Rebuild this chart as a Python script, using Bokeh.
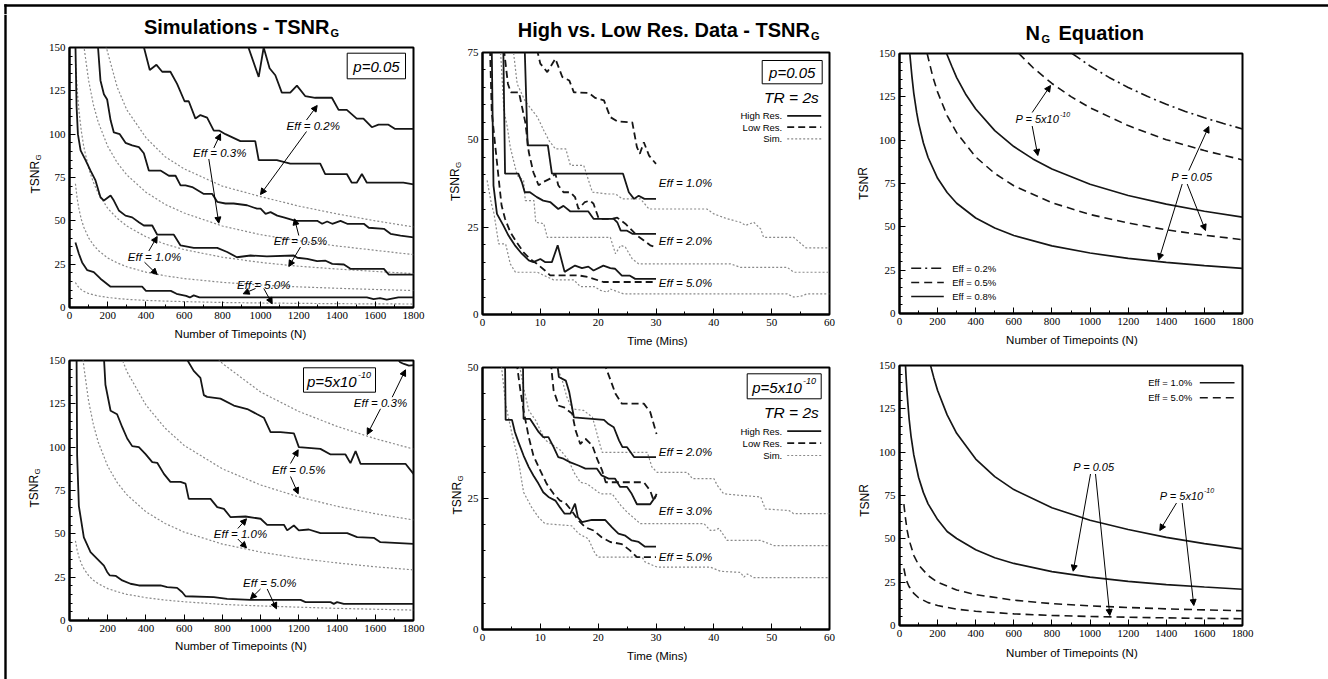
from bokeh.plotting import figure
from bokeh.models import Range1d, FixedTicker, Label, Arrow, NormalHead, BoxAnnotation
from bokeh.layouts import row, column
from bokeh.embed import file_html
from bokeh.resources import INLINE

# ---------------- DATA ----------------
# Panel 1: simulations, p=0.05 (N timepoints vs TSNR_G)
p1_e02_n = [930, 990, 1016, 1047, 1077, 1111, 1155, 1190, 1233, 1286, 1373, 1408, 1451, 1503, 1538, 1582, 1617, 1669, 1704, 1800]
p1_e02_v = [152, 133, 150, 138, 134, 124, 124, 128, 122, 121, 121, 114, 114, 109, 109, 104, 105.5, 105.5, 103, 103]
p1_e03_n = [385, 420, 455, 485, 528, 563, 602, 624, 659, 685, 720, 755, 785, 816, 894, 972, 990, 1085, 1155, 1312, 1338, 1451, 1477, 1503, 1530, 1556, 1678, 1747, 1800]
p1_e03_v = [152, 137, 140, 136, 136, 129, 119, 119, 109, 111, 109.5, 102, 102, 100, 96, 96, 85, 85, 83, 83, 77, 77, 72, 72, 77, 72, 72, 72, 71]
p1_e05_n = [148, 162, 180, 197, 215, 232, 263, 293, 328, 363, 389, 415, 476, 520, 555, 581, 607, 642, 703, 747, 773, 816, 859, 929, 981, 1000, 1026, 1052, 1087, 1121, 1183, 1296, 1322, 1348, 1375, 1418, 1453, 1540, 1566, 1645, 1680, 1732, 1800]
p1_e05_v = [152, 131, 123, 120, 108, 101, 100, 95, 93.5, 92.5, 89, 79, 79, 76, 76, 70.5, 70.5, 69.5, 65.5, 65.5, 61, 60, 60, 59, 57, 57, 54, 55, 53, 52, 50, 50, 48.3, 49.6, 48.3, 50, 48.3, 48.3, 46, 45.4, 42.5, 41.5, 40.5]
p1_e10_n = [31, 37, 44, 58, 84, 110, 136, 162, 180, 215, 232, 258, 293, 328, 363, 389, 433, 459, 546, 581, 650, 773, 825, 876, 947, 1033, 1174, 1192, 1244, 1296, 1340, 1375, 1436, 1470, 1645, 1671, 1800]
p1_e10_v = [152, 116, 100, 90.6, 85, 79, 73.3, 63.6, 61.7, 64.6, 61.7, 56, 53, 52, 49.2, 47.3, 47.3, 42, 42, 35.8, 34.4, 34.4, 32, 29, 30, 29.5, 30, 28.7, 28.1, 26.7, 27, 25.2, 24.8, 22.3, 22.3, 19, 19]
p1_e50_n = [31, 49, 66, 93, 127, 162, 215, 380, 400, 530, 560, 610, 630, 650, 680, 1556, 1591, 1625, 1660, 1721, 1800]
p1_e50_v = [37.5, 31, 26, 21.5, 20.4, 16.6, 12, 12, 9.6, 9.6, 7.9, 6.7, 5.8, 7, 5.8, 5.8, 4.8, 5.4, 4.6, 5.8, 5.8]
sim_n = [31, 40, 50, 62, 75, 100, 125, 150, 200, 250, 300, 400, 500, 600, 800, 1000, 1200, 1400, 1600, 1800]
p1_sim_02 = [346, 306, 274, 246, 225, 205, 185, 168, 147, 127, 114, 98, 87, 80, 70, 64, 58.5, 54, 50, 46.5]
p1_sim_03 = [232, 205, 184, 165, 151, 131, 117, 107, 93, 83.5, 76.5, 66.5, 59.5, 54.5, 47, 42, 38.5, 35.5, 33, 30.5]
p1_sim_05 = [142.8, 126, 113, 101.6, 92.6, 80.4, 72.2, 66, 57.2, 51.4, 47, 40.8, 36.6, 33.4, 29, 26, 23.8, 22.2, 20.8, 19.6]
p1_sim_10 = [71.4, 63.0, 56.5, 50.8, 46.3, 40.2, 36.1, 33.0, 28.6, 25.7, 23.5, 20.4, 18.3, 16.7, 14.5, 13.0, 11.9, 11.1, 10.4, 9.8]
p1_sim_50 = [14.4, 12.7, 11.4, 10.3, 9.3, 8.1, 7.3, 6.7, 5.8, 5.2, 4.7, 4.1, 3.7, 3.4, 2.9, 2.6, 2.4, 2.2, 2.1, 2.0]

# Panel 4: simulations, p=5x10^-10
p4_e03_n = [1710, 1730, 1750, 1776, 1800]
p4_e03_v = [152, 149, 148, 147, 147.3]
p4_e05_n = [607, 650, 685, 703, 720, 790, 860, 930, 982, 1017, 1052, 1104, 1174, 1200, 1313, 1366, 1444, 1470, 1497, 1523, 1758, 1800]
p4_e05_v = [152, 144, 140, 130, 129, 128, 124, 122, 119, 117, 108.7, 108.7, 108, 100, 99, 95.8, 95.8, 90.8, 97.7, 90.4, 90.4, 84.6]
p4_e10_n = [180, 188, 215, 249, 276, 302, 328, 363, 398, 433, 459, 494, 528, 581, 607, 624, 738, 773, 808, 843, 921, 1000, 1034, 1122, 1139, 1174, 1200, 1252, 1313, 1453, 1505, 1592, 1627, 1800]
p4_e10_v = [152, 136, 121, 119, 111.5, 105, 100.6, 100, 96, 91.4, 91, 84.6, 80, 80, 79, 70.2, 70.2, 65.4, 64.4, 59.6, 60, 58.7, 55.2, 55.2, 52, 54.8, 52, 52.5, 50.4, 50.4, 48.1, 47.7, 45.2, 44.2]
p4_e50_n = [37, 40, 49, 75, 110, 145, 180, 197, 211, 241, 276, 319, 363, 476, 511, 563, 590, 607, 755, 825, 947, 1209, 1235, 1366, 1383, 1400, 1435, 1800]
p4_e50_v = [152, 95, 66, 48, 39.4, 35.6, 31.7, 28, 26, 25.8, 23.1, 21.2, 20.2, 20.2, 19.2, 18.8, 16.3, 14, 13.5, 12.5, 11.9, 11.9, 10.6, 10.6, 9.6, 10.6, 9.6, 9.6]
p4_sim_03_n = [500, 600, 800, 1000, 1200, 1400, 1600, 1800]
p4_sim_03 = [188, 171.6, 148.3, 131.8, 120.6, 112, 104.9, 98.9]
p4_sim_05_n = [200, 250, 300, 400, 500, 600, 800, 1000, 1200, 1400, 1600, 1800]
p4_sim_05 = [176, 158, 143.7, 124.3, 111, 101, 87.5, 78.2, 71.3, 65.9, 61.6, 58]
p4_sim_10 = [229, 201, 180, 161, 146.4, 126.6, 113, 103, 89, 79.5, 72.6, 62.7, 56, 51, 44.1, 39.5, 35.9, 33.2, 31, 29.2]
p4_sim_50 = [46, 40.6, 36.4, 32.8, 29.9, 25.9, 23.2, 21.3, 18.4, 16.6, 15.1, 13.2, 11.8, 10.8, 9.3, 8.4, 7.7, 7.0, 6.5, 6.0]

# Panel 2: high vs low res, p=0.05 (minutes)
p2_h10_t = [7.3, 7.8, 11.3, 12.0, 24.3, 25.3, 26.2, 27.0, 28.0, 30.0]
p2_h10_v = [76, 48.4, 48.4, 40.3, 40.3, 35, 33.1, 34, 33.1, 33.1]
p2_h20_t = [3.6, 3.9, 6.2, 6.8, 7.3, 8.2, 9.4, 10.5, 11.7, 13.1, 14.0, 15.2, 18.3, 19.2, 22.7, 23.3, 23.9, 25.0, 25.9, 30.0]
p2_h20_v = [76, 40.3, 40.3, 37.9, 35, 35, 33.6, 32.6, 32.2, 30.2, 31.1, 29.5, 29.5, 27.4, 27.4, 26.4, 24, 24, 23.1, 23.1]
p2_h50_t = [1.6, 1.9, 2.5, 3.6, 4.5, 5.6, 6.8, 8.0, 8.8, 10.0, 10.8, 12.0, 13.0, 14.2, 16.0, 17.2, 18.3, 19.2, 20.9, 22.1, 22.9, 24.1, 25.5, 26.4, 30.0]
p2_h50_v = [76, 36.9, 28.8, 25.5, 22.6, 19.8, 17.4, 15.5, 15, 15.9, 15, 15, 19.8, 12.2, 14, 13.3, 13.7, 12.6, 14, 13.3, 13.1, 11.1, 11.1, 10.2, 10.2]
p2_l10_t = [9.4, 10.0, 11.2, 12.6, 13.8, 15.0, 15.8, 18.4, 19.5, 21.0, 22.1, 23.3, 25.9, 26.7, 27.2, 27.9, 28.8, 30.0]
p2_l10_v = [76, 71.8, 69.4, 73.2, 68, 67, 63.6, 63.4, 62, 61.3, 56.5, 55.3, 55, 47.9, 46, 49.3, 45.5, 43.1]
p2_l20_t = [3.7, 4.4, 4.9, 6.3, 7.4, 8.0, 8.8, 9.7, 10.5, 11.7, 12.6, 13.1, 14.0, 15.2, 16.0, 16.6, 17.7, 18.6, 19.2, 20.1, 22.4, 23.3, 24.7, 25.9, 26.7, 27.9, 29.0, 30.0]
p2_l20_v = [76, 66, 63.6, 63.6, 55, 46.5, 40.7, 37, 37.9, 38.9, 40.3, 37, 35, 35, 33.6, 30.2, 32.2, 32.6, 31.7, 27.4, 27.4, 27.7, 26, 24, 22.6, 21.2, 19.8, 19.3]
p2_l50_t = [1.3, 1.6, 2.2, 2.8, 3.3, 3.9, 4.8, 5.9, 7.1, 8.2, 9.4, 10.8, 11.7, 16.6, 18.3, 20.9, 30.0]
p2_l50_v = [76, 57.9, 48.4, 38.8, 31.2, 27.4, 23.6, 20.7, 17.8, 15.9, 14.5, 12.6, 11.2, 11.2, 10.7, 9.3, 9.3]
p2_s10_t = [5.3, 6.0, 7.4, 8.8, 9.5, 10.6, 11.5, 12.6, 14.4, 15.2, 17.5, 19.0, 21.6, 23.0, 24.2, 27.3, 28.8, 38.8, 40.0, 42.3, 44.6, 45.5, 46.9, 48.1, 48.6, 53.8, 55.9, 60.0]
p2_s10_v = [76, 66, 61, 58, 56.5, 52.7, 49.8, 47.4, 47.4, 42.7, 42.7, 35, 34.5, 34.5, 33.1, 33.1, 30.2, 30.2, 28.8, 27.4, 26.4, 25.5, 26.4, 24.5, 22.1, 22.1, 19.1, 19.1]
p2_s20_t = [3.1, 3.7, 4.3, 4.8, 6.0, 7.1, 7.4, 8.9, 9.2, 10.6, 11.2, 22.1, 23.0, 23.9, 24.7, 25.9, 27.0, 42.9, 44.6, 52.7, 53.8, 60.0]
p2_s20_v = [76, 58.4, 53.6, 47.9, 39.8, 38.4, 32.6, 32.6, 26.4, 26, 22.1, 22.1, 17.4, 19.8, 19.3, 15.9, 14.5, 14.5, 13.5, 13.5, 12.1, 12.1]
p2_s50_t = [0.8, 1.5, 2.0, 2.8, 4.0, 4.8, 5.7, 9.5, 10.6, 12.3, 15.8, 16.9, 19.3, 20.4, 21.6, 22.1, 24.4, 52.7, 53.8, 55.0, 56.1, 60.0]
p2_s50_v = [38.4, 32, 28.8, 20.2, 20.2, 14.5, 12.1, 12.1, 11.2, 9.9, 9.9, 8, 8, 6.9, 6.4, 7.3, 5.9, 5.9, 5, 5.2, 5.9, 5.9]

# Panel 5: high vs low res, p=5x10^-10
p5_h20_t = [12.9, 13.2, 14.4, 15.0, 15.8, 21.0, 21.8, 22.7, 23.6, 24.2, 25.0, 26.2, 30.0]
p5_h20_v = [51, 48.2, 47.5, 45.3, 40.5, 40, 39.2, 38.6, 36.1, 34.8, 34.8, 32.9, 32.9]
p5_h30_t = [7.0, 7.1, 8.2, 8.8, 9.7, 10.5, 11.4, 12.3, 13.1, 14.0, 15.2, 16.6, 17.8, 19.8, 20.6, 21.8, 22.9, 23.8, 25.0, 25.8, 26.7, 29.0, 30.0]
p5_h30_v = [51, 40.2, 40.2, 39.2, 37.7, 36.7, 36.7, 34.8, 32.9, 32.6, 31.9, 31.3, 30.7, 30.7, 29.4, 28.8, 28.8, 27.2, 27.2, 25.9, 23.9, 23.9, 25.5]
p5_h50_t = [3.9, 4.0, 5.1, 5.6, 6.2, 7.1, 8.0, 8.8, 9.7, 10.5, 11.4, 12.6, 13.4, 14.2, 15.2, 16.0, 16.5, 17.2, 18.9, 21.2, 22.4, 23.5, 24.7, 25.8, 27.0, 28.1, 30.0]
p5_h50_v = [51, 40, 40, 37.7, 35.8, 33.2, 31, 29.4, 27.8, 26.2, 25.3, 24.6, 23.3, 22.1, 22.1, 24, 21.4, 20.5, 20.9, 20.9, 19.5, 18.3, 17.9, 17, 16.7, 15.8, 15.8]
p5_l20_t = [21.0, 23.0, 24.1, 27.9, 29.0, 30.1]
p5_l20_v = [51, 45, 43.1, 43.1, 41.5, 37.3]
p5_l30_t = [11.8, 12.3, 13.2, 14.1, 15.5, 16.1, 16.9, 17.8, 19.0, 19.8, 20.7, 21.3, 27.9, 29.0, 29.6, 30.1]
p5_l30_v = [51, 45.6, 42.7, 42.4, 41.2, 38, 35.4, 36.4, 35.1, 32.6, 30.3, 28.1, 28.1, 26.5, 24.6, 25.9]
p5_l50_t = [5.9, 6.5, 7.1, 8.0, 8.8, 10.0, 11.1, 12.3, 13.4, 14.3, 15.4, 16.6, 17.8, 19.2, 20.6, 22.1, 24.1, 25.5, 26.7, 30.0]
p5_l50_v = [51, 46, 41.8, 36.7, 33.2, 30.3, 27.8, 25.9, 24.6, 24.2, 22.7, 20.8, 19.5, 18.9, 17.6, 16.7, 16.3, 15.1, 13.8, 13.8]
p5_s20_t = [12.6, 13.8, 14.6, 15.5, 17.5, 19.0, 19.5, 20.1, 20.7, 28.5, 29.3, 30.2, 35.4, 36.3, 40.0, 40.6, 41.7, 44.6, 48.1, 48.9, 53.0, 53.8, 60.0]
p5_s20_v = [51, 47.5, 44.3, 42.1, 41.8, 40.5, 38.6, 36.1, 33.8, 33.8, 31, 30, 30, 28.8, 28.8, 27.5, 25.9, 25.6, 25.3, 23, 22.7, 22.1, 22.1]
p5_s30_t = [6.3, 7.1, 8.0, 9.2, 10.0, 10.9, 12.3, 13.5, 14.9, 15.8, 16.9, 18.1, 19.3, 20.4, 22.4, 23.9, 25.0, 27.3, 38.3, 39.4, 40.0, 40.9, 42.3, 48.1, 50.4, 60.0]
p5_s30_v = [51, 46.2, 41.8, 39.9, 38, 36.1, 35.1, 34.2, 32.3, 30, 28.1, 27.8, 26.8, 25.9, 25.9, 23.7, 22.4, 20.2, 20.2, 18.9, 18.9, 19.3, 17, 17, 16, 16]
p5_s50_t = [3.2, 4.0, 5.1, 6.2, 7.1, 8.5, 9.7, 10.8, 15.4, 16.6, 18.3, 19.5, 20.1, 27.6, 28.1, 30.2, 39.4, 41.2, 44.6, 45.2, 45.8, 46.9, 60.0]
p5_s50_v = [51, 43, 37.3, 32.3, 26.2, 23.3, 21.4, 20.2, 19.8, 18.3, 17.3, 14.4, 13.8, 13.8, 12.9, 11.9, 11.9, 11.1, 10.9, 10, 10.6, 9.9, 9.9]

# Panel 3: N_G equation
p3_dd02_n = [906, 1000, 1100, 1200, 1300, 1400, 1500, 1600, 1700, 1800]
p3_dd02_v = [150, 142.8, 136.2, 130.4, 125.3, 120.7, 116.6, 112.9, 109.6, 106.5]
p3_da05_hi_n = [626, 700, 800, 900, 1000, 1200, 1400, 1600, 1800]
p3_da05_hi_v = [150, 141.9, 132.7, 125.1, 118.7, 108.4, 100.3, 94, 88.6]
p3_so08_hi_n = [247, 275, 300, 350, 400, 500, 600, 700, 800, 1000, 1200, 1400, 1600, 1800]
p3_so08_hi_v = [150, 142.5, 136.1, 126, 118, 105.5, 96.3, 89.2, 83.4, 74.6, 68.1, 63.1, 59, 55.6]
p3_da05_lo_n = [145, 175, 200, 250, 300, 400, 500, 600, 800, 1000, 1200, 1400, 1600, 1800]
p3_da05_lo_v = [150, 136.5, 127.7, 114.2, 104.3, 90.3, 80.8, 73.7, 63.9, 57.1, 52.2, 48.3, 45.2, 42.6]
p3_so08_lo_n = [54, 65, 75, 90, 100, 125, 150, 200, 250, 300, 400, 500, 600, 800, 1000, 1200, 1400, 1600, 1800]
p3_so08_lo_v = [150, 137, 127, 116, 110, 98.5, 90, 78, 69.8, 63.6, 55.1, 49.3, 45, 39, 34.9, 31.8, 29.5, 27.6, 26]

# Panel 6: N_G equation, Eff 1% and 5%
p6_so10_hi_n = [163, 180, 200, 250, 300, 400, 500, 600, 800, 1000, 1200, 1400, 1600, 1800]
p6_so10_hi_v = [150, 143, 135.6, 121.5, 110.9, 96, 85.9, 78.4, 67.9, 60.7, 55.4, 50.8, 47.2, 44.2]
p6_so10_lo_n = [31.5, 35, 40, 50, 60, 75, 100, 125, 150, 200, 250, 300, 400, 500, 600, 800, 1000, 1200, 1400, 1600, 1800]
p6_so10_lo_v = [150, 142.5, 133.6, 119.7, 109.6, 98.4, 85.5, 76.8, 70.2, 61.1, 54.2, 50.2, 43.7, 39.1, 35.8, 31.1, 27.9, 25.5, 23.6, 22.2, 20.9]
p6_da50_n = [23, 30, 40, 50, 75, 100, 150, 200, 300, 400, 600, 800, 1000, 1200, 1400, 1600, 1800]
p6_da50_hi_v = [70, 63, 55, 49.5, 40.5, 35, 28.8, 25, 20.5, 17.8, 14.6, 12.6, 11.3, 10.4, 9.6, 9, 8.5]
p6_da50_lo_v = [33, 29, 25, 22.5, 18.5, 16, 13.2, 11.5, 9.4, 8.2, 6.7, 5.8, 5.2, 4.8, 4.4, 4.1, 3.9]

# Tick labels
n_ticks = [0, 200, 400, 600, 800, 1000, 1200, 1400, 1600, 1800]
t_ticks = [0, 10, 20, 30, 40, 50, 60]

# ---------------- STYLE / LAYOUT ----------------
SANS = "Liberation Sans"
SERIF = "Liberation Serif"
INK = "#161616"
SIMC = "#8a8a8a"

# panel figures (page coords: figure origin/size and frame edges)
G1 = dict(x0=45, y0=40, w=395, h=285, fl=69, fr=413, ft=47, fb=307)
G4 = dict(x0=45, y0=350, w=395, h=288, fl=69, fr=413, ft=360, fb=620)
G2 = dict(x0=464, y0=43, w=386, h=289, fl=482, fr=829, ft=52, fb=314)
G5 = dict(x0=464, y0=350, w=386, h=297, fl=482, fr=829, ft=367, fb=629)
G3 = dict(x0=873, y0=45, w=455, h=286, fl=899, fr=1242, ft=53, fb=313)
G6 = dict(x0=873, y0=348, w=455, h=295, fl=899, fr=1242, ft=365, fb=625)

TOP_H = 14


def make_fig(g, xr, yr, xt, xm, yt, ym):
    p = figure(width=g["w"], height=g["h"], output_backend="svg", toolbar_location=None,
               title=None, x_range=Range1d(*xr), y_range=Range1d(*yr),
               min_border_left=g["fl"] - g["x0"], min_border_right=g["x0"] + g["w"] - g["fr"],
               min_border_top=g["ft"] - g["y0"], min_border_bottom=g["y0"] + g["h"] - g["fb"])
    p.grid.visible = False
    p.outline_line_color = "black"
    p.outline_line_width = 2
    p.background_fill_color = "white"
    p.border_fill_color = "white"
    p.xaxis.ticker = FixedTicker(ticks=xt, minor_ticks=xm)
    p.yaxis.ticker = FixedTicker(ticks=yt, minor_ticks=ym)
    for ax in list(p.xaxis) + list(p.yaxis):
        ax.axis_line_width = 2
        ax.axis_line_color = "black"
        ax.major_tick_in = 6
        ax.major_tick_out = 0
        ax.minor_tick_in = 3
        ax.minor_tick_out = 0
        ax.major_tick_line_color = "black"
        ax.minor_tick_line_color = "black"
        ax.major_label_text_font = SERIF
        ax.major_label_text_font_size = "11px"
        ax.major_label_text_color = "black"
        ax.major_label_standoff = 4
    return p


def strip(x0, y0, w, h, fb=None):
    """Text-only canvas. fb: page y of its frame bottom (differs when the frame is aligned to a neighbour)."""
    s = figure(width=w, height=h, output_backend="svg", toolbar_location=None, title=None,
               x_axis_type=None, y_axis_type=None, x_range=Range1d(0, w), y_range=Range1d(0, h),
               min_border=0)
    s.outline_line_color = None
    s.background_fill_color = "white"
    s.border_fill_color = "white"
    s.min_border_left = 0
    s.min_border_right = 0
    s.min_border_top = 0
    s.min_border_bottom = 0
    return s, dict(fl=x0, fb=(y0 + h) if fb is None else fb)


def txt(p, g, px, py, text, size, style="normal", align="left", baseline="middle", angle=0.0, font=SANS):
    p.add_layout(Label(x=px - g["fl"], y=g["fb"] - py, x_units="screen", y_units="screen",
                       text=text, text_font=font, text_font_size=f"{size}px",
                       text_font_style=style, text_align=align, text_baseline=baseline,
                       angle=angle, text_color="black"))


def arr(p, g, x1, y1, x2, y2, head=True, dash="solid", width=1.0, color="black"):
    kw = dict(x_start=x1 - g["fl"], y_start=g["fb"] - y1, x_end=x2 - g["fl"], y_end=g["fb"] - y2,
              start_units="screen", end_units="screen", line_width=width, line_color=color,
              line_dash=dash)
    kw["end"] = NormalHead(size=6, fill_color="black", line_color="black", line_width=1) if head else None
    p.add_layout(Arrow(**kw))


def box(p, g, l, r, t, b, fill="white", line="black"):
    p.add_layout(BoxAnnotation(left=l - g["fl"], right=r - g["fl"], top=g["fb"] - t, bottom=g["fb"] - b,
                               left_units="screen", right_units="screen", top_units="screen",
                               bottom_units="screen", fill_color=fill, fill_alpha=1.0,
                               line_color=line, line_width=1, line_alpha=1.0 if line else 0.0))


def rule(s, g, l, r, t, b):
    box(s, g, l, r, t, b, fill="black", line=None)


def ylab(p, g, px, pybot, sub=True):
    if sub:
        txt(p, g, px, pybot, "TSNR", 12, "normal", "left", "middle", angle=1.5708)
        txt(p, g, px + 3, pybot - 33, "G", 8, "normal", "left", "middle", angle=1.5708)
    else:
        txt(p, g, px, pybot, "TSNR", 12, "normal", "center", "middle", angle=1.5708)


def title_sub(s, g, xr, mid, main, gmid):
    txt(s, g, xr, mid, main, 20, "bold", "right", "middle")
    txt(s, g, xr + 1, gmid, "G", 11, "bold", "left", "middle")


def solid(p, x, y, w=1.8):
    p.line(x, y, line_color=INK, line_width=w)


def dashed(p, x, y, d="7 4", w=1.8):
    p.line(x, y, line_color=INK, line_width=w, line_dash=d)


def sim(p, x, y):
    p.line(x, y, line_color=SIMC, line_width=1.2, line_dash="2 2")


n_minor = list(range(100, 1800, 200))
v_minor = list(range(0, 151, 5))
v_major = [0, 25, 50, 75, 100, 125, 150]
t_minor = [5, 15, 25, 35, 45, 55]

# ================= PAGE RULES (top band and left strip) =================
TOP, gTop = strip(0, 0, 1328, TOP_H)
TOP.height = TOP_H
TOP.min_height = TOP_H
rule(TOP, gTop, 3.8, 1328, 3.8, 6.2)
rule(TOP, gTop, 3.8, 6.2, 3.8, TOP_H)

LEFT, gL = strip(0, TOP_H, 10, 679 - TOP_H)
rule(LEFT, gL, 3.8, 6.2, TOP_H, 679)

# ================= COLUMN 1 =================
T1, gT1 = strip(10, TOP_H, 430, 40 - TOP_H)
title_sub(T1, gT1, 329, 26.3, "Simulations - TSNR", 32.5)

Y1, gY1 = strip(10, 40, 35, 285, fb=G1["fb"])
ylab(Y1, gY1, 35, 193)

p1 = make_fig(G1, (0, 1800), (0, 150), n_ticks, n_minor, v_major, v_minor)
for vals in (p1_sim_02, p1_sim_03, p1_sim_05, p1_sim_10, p1_sim_50):
    sim(p1, sim_n, vals)
solid(p1, p1_e02_n, p1_e02_v)
solid(p1, p1_e03_n, p1_e03_v)
solid(p1, p1_e05_n, p1_e05_v)
solid(p1, p1_e10_n, p1_e10_v)
solid(p1, p1_e50_n, p1_e50_v)
box(p1, G1, 346.7, 405, 52.7, 78.3)
txt(p1, G1, 376, 66, "p=0.05", 15, "italic", "center")
txt(p1, G1, 312.7, 125, "Eff = 0.2%", 11.5, "italic", "center")
arr(p1, G1, 306, 119.5, 316.7, 105)
arr(p1, G1, 306, 131, 260, 194)
txt(p1, G1, 219.3, 152.7, "Eff = 0.3%", 11.5, "italic", "center")
arr(p1, G1, 213.3, 147.5, 220, 133.3)
arr(p1, G1, 208.3, 158.5, 218.3, 222.7)
txt(p1, G1, 300, 240.7, "Eff = 0.5%", 11.5, "italic", "center")
arr(p1, G1, 298.3, 235, 294, 218.3)
arr(p1, G1, 300, 246.5, 288.3, 266)
txt(p1, G1, 154, 256, "Eff = 1.0%", 11.5, "italic", "center")
arr(p1, G1, 148.3, 250.5, 156.7, 236)
arr(p1, G1, 144, 261.7, 156.7, 274)
txt(p1, G1, 263.3, 284, "Eff = 5.0%", 11.5, "italic", "center")
arr(p1, G1, 255, 288, 242.7, 293.3)
arr(p1, G1, 263.3, 288, 271.7, 303.3)

X1, gX1 = strip(10, 325, 430, 25)
txt(X1, gX1, 240, 333.5, "Number of Timepoints (N)", 11.5, "normal", "center")

Y4, gY4 = strip(10, 350, 35, 288, fb=G4["fb"])
ylab(Y4, gY4, 34, 507)

p4 = make_fig(G4, (0, 1800), (0, 150), n_ticks, n_minor, v_major, v_minor)
sim(p4, p4_sim_03_n, p4_sim_03)
sim(p4, p4_sim_05_n, p4_sim_05)
sim(p4, sim_n, p4_sim_10)
sim(p4, sim_n, p4_sim_50)
solid(p4, p4_e03_n, p4_e03_v)
solid(p4, p4_e05_n, p4_e05_v)
solid(p4, p4_e10_n, p4_e10_v)
solid(p4, p4_e50_n, p4_e50_v)
box(p4, G4, 303, 375, 367.3, 391.7)
txt(p4, G4, 306.5, 380.7, "p=5x10", 15, "italic", "left")
txt(p4, G4, 357.5, 374, "-10", 9, "italic", "left")
txt(p4, G4, 380, 402.7, "Eff = 0.3%", 11.5, "italic", "center")
arr(p4, G4, 391.7, 396.7, 405, 369.3)
arr(p4, G4, 380, 408.3, 366.7, 434)
txt(p4, G4, 298.3, 469.3, "Eff = 0.5%", 11.5, "italic", "center")
arr(p4, G4, 290, 463, 297.7, 449.3)
arr(p4, G4, 290, 476, 297.7, 493.3)
txt(p4, G4, 240, 533.3, "Eff = 1.0%", 11.5, "italic", "center")
arr(p4, G4, 237.3, 528, 246, 518.3)
arr(p4, G4, 237.3, 538.5, 246, 547.3)
txt(p4, G4, 269.3, 582.7, "Eff = 5.0%", 11.5, "italic", "center")
arr(p4, G4, 260, 588.5, 250, 598.3)
arr(p4, G4, 266.7, 588.5, 276, 608.3)

X4, gX4 = strip(10, 638, 430, 41)
txt(X4, gX4, 240.5, 645, "Number of Timepoints (N)", 11.5, "normal", "center")

col1 = column(T1, row(Y1, p1, spacing=0), X1, row(Y4, p4, spacing=0), X4, spacing=0)

# ================= COLUMN 2 =================
T2, gT2 = strip(440, TOP_H, 410, 43 - TOP_H)
title_sub(T2, gT2, 809.5, 29.5, "High vs. Low Res. Data - TSNR", 35.7)

Y2, gY2 = strip(440, 43, 24, 289, fb=G2["fb"])
ylab(Y2, gY2, 455, 200.5)

p2 = make_fig(G2, (0, 60), (0, 75), t_ticks, t_minor, [0, 25, 50, 75], list(range(0, 76, 5)))
sim(p2, p2_s10_t, p2_s10_v)
sim(p2, p2_s20_t, p2_s20_v)
sim(p2, p2_s50_t, p2_s50_v)
dashed(p2, p2_l10_t, p2_l10_v)
dashed(p2, p2_l20_t, p2_l20_v)
dashed(p2, p2_l50_t, p2_l50_v)
solid(p2, p2_h10_t, p2_h10_v)
solid(p2, p2_h20_t, p2_h20_v)
solid(p2, p2_h50_t, p2_h50_v)
box(p2, G2, 761.7, 821.7, 60, 83.3)
txt(p2, G2, 791.7, 71.7, "p=0.05", 15, "italic", "center")
txt(p2, G2, 818.3, 96.7, "TR = 2s", 15.5, "italic", "right")
for py, name, d in ((115.3, "High Res.", "solid"), (126.7, "Low Res.", "7 4"), (138.3, "Sim.", "2 2")):
    txt(p2, G2, 781.7, py, name, 9.5, "normal", "right")
    arr(p2, G2, 786.7, py, 820.7, py, head=False, dash=d,
        width=(1.2 if d == "2 2" else 1.8), color=(SIMC if d == "2 2" else INK))
txt(p2, G2, 658.3, 182.7, "Eff = 1.0%", 11.5, "italic", "left")
txt(p2, G2, 658.3, 240.7, "Eff = 2.0%", 11.5, "italic", "left")
txt(p2, G2, 658.3, 282.3, "Eff = 5.0%", 11.5, "italic", "left")

X2, gX2 = strip(440, 332, 410, 18)
txt(X2, gX2, 657, 340, "Time (Mins)", 11.5, "normal", "center")

Y5, gY5 = strip(440, 350, 24, 297, fb=G5["fb"])
ylab(Y5, gY5, 457, 514)

p5 = make_fig(G5, (0, 60), (0, 50), t_ticks, t_minor, [0, 25, 50], list(range(0, 51, 5)))
sim(p5, p5_s20_t, p5_s20_v)
sim(p5, p5_s30_t, p5_s30_v)
sim(p5, p5_s50_t, p5_s50_v)
dashed(p5, p5_l20_t, p5_l20_v)
dashed(p5, p5_l30_t, p5_l30_v)
dashed(p5, p5_l50_t, p5_l50_v)
solid(p5, p5_h20_t, p5_h20_v)
solid(p5, p5_h30_t, p5_h30_v)
solid(p5, p5_h50_t, p5_h50_v)
box(p5, G5, 746.7, 820.7, 373.3, 398.3)
txt(p5, G5, 751.7, 387.3, "p=5x10", 15, "italic", "left")
txt(p5, G5, 802.5, 380, "-10", 9, "italic", "left")
txt(p5, G5, 818.3, 411.7, "TR = 2s", 15.5, "italic", "right")
for py, name, d in ((430.7, "High Res.", "solid"), (442.7, "Low Res.", "7 4"), (455, "Sim.", "2 2")):
    txt(p5, G5, 781.7, py, name, 9.5, "normal", "right")
    arr(p5, G5, 786.7, py, 820.7, py, head=False, dash=d,
        width=(1.2 if d == "2 2" else 1.8), color=(SIMC if d == "2 2" else INK))
txt(p5, G5, 658.3, 451.7, "Eff = 2.0%", 11.5, "italic", "left")
txt(p5, G5, 658.3, 510, "Eff = 3.0%", 11.5, "italic", "left")
txt(p5, G5, 658.3, 556.7, "Eff = 5.0%", 11.5, "italic", "left")

X5, gX5 = strip(440, 647, 410, 32)
txt(X5, gX5, 656.7, 655, "Time (Mins)", 11.5, "normal", "center")

col2 = column(T2, row(Y2, p2, spacing=0), X2, row(Y5, p5, spacing=0), X5, spacing=0)

# ================= COLUMN 3 =================
T3, gT3 = strip(850, TOP_H, 478, 45 - TOP_H)
txt(T3, gT3, 1039.5, 32.1, "N", 20, "bold", "right", "middle")
txt(T3, gT3, 1041, 38.2, "G", 11, "bold", "left", "middle")
txt(T3, gT3, 1058, 32.1, "Equation", 20, "bold", "left", "middle")

Y3, gY3 = strip(850, 45, 23, 286, fb=G3["fb"])
ylab(Y3, gY3, 863, 183, sub=False)

p3 = make_fig(G3, (0, 1800), (0, 150), n_ticks, n_minor, v_major, v_minor)
dashed(p3, p3_dd02_n, p3_dd02_v, d="10 4 2 4", w=1.6)
dashed(p3, p3_da05_hi_n, p3_da05_hi_v, d="8 5", w=1.6)
dashed(p3, p3_da05_lo_n, p3_da05_lo_v, d="8 5", w=1.6)
solid(p3, p3_so08_hi_n, p3_so08_hi_v, w=1.7)
solid(p3, p3_so08_lo_n, p3_so08_lo_v, w=1.7)
for py, name, d in ((267.7, "Eff = 0.2%", "10 4 2 4"), (282, "Eff = 0.5%", "8 5"), (296, "Eff = 0.8%", "solid")):
    arr(p3, G3, 910.7, py, 943.3, py, head=False, dash=d, width=1.5, color=INK)
    txt(p3, G3, 951.7, py, name, 9.5, "normal", "left")
txt(p3, G3, 1015, 118.3, "P = 5x10", 11, "italic", "left")
txt(p3, G3, 1059.5, 113.5, "-10", 7, "italic", "left")
arr(p3, G3, 1031.7, 112, 1050, 85)
arr(p3, G3, 1031.7, 125.5, 1037.3, 155)
txt(p3, G3, 1170.7, 176.7, "P = 0.05", 11, "italic", "left")
arr(p3, G3, 1188.3, 170, 1208.3, 126)
arr(p3, G3, 1181.7, 183.5, 1158.3, 259.3)
arr(p3, G3, 1186.7, 183.5, 1205, 230)

X3, gX3 = strip(850, 331, 478, 17)
txt(X3, gX3, 1071.5, 339, "Number of Timepoints (N)", 11.5, "normal", "center")

Y6, gY6 = strip(850, 348, 23, 295, fb=G6["fb"])
ylab(Y6, gY6, 864, 500, sub=False)

p6 = make_fig(G6, (0, 1800), (0, 150), n_ticks, n_minor, v_major, v_minor)
solid(p6, p6_so10_hi_n, p6_so10_hi_v, w=1.7)
solid(p6, p6_so10_lo_n, p6_so10_lo_v, w=1.7)
dashed(p6, p6_da50_n, p6_da50_hi_v, d="8 5", w=1.6)
dashed(p6, p6_da50_n, p6_da50_lo_v, d="8 5", w=1.6)
for py, name, d in ((382.3, "Eff = 1.0%", "solid"), (397.3, "Eff = 5.0%", "8 5")):
    txt(p6, G6, 1191.7, py, name, 9.5, "normal", "right")
    arr(p6, G6, 1199.3, py, 1234, py, head=False, dash=d, width=1.5, color=INK)
txt(p6, G6, 1072.7, 466.7, "P = 0.05", 11, "italic", "left")
arr(p6, G6, 1090, 473.5, 1072.7, 570.7)
arr(p6, G6, 1095, 473.5, 1109.3, 615)
txt(p6, G6, 1159.3, 495, "P = 5x10", 11, "italic", "left")
txt(p6, G6, 1203.5, 490, "-10", 7, "italic", "left")
arr(p6, G6, 1176, 502.5, 1159.3, 530)
arr(p6, G6, 1181.7, 502.5, 1193.3, 605)

X6, gX6 = strip(850, 643, 478, 36)
txt(X6, gX6, 1071.5, 652, "Number of Timepoints (N)", 11.5, "normal", "center")

col3 = column(T3, row(Y3, p3, spacing=0), X3, row(Y6, p6, spacing=0), X6, spacing=0)

layout = column(TOP, row(LEFT, col1, col2, col3, spacing=0), spacing=0)

open("out.html", "w").write(file_html(layout, INLINE))
